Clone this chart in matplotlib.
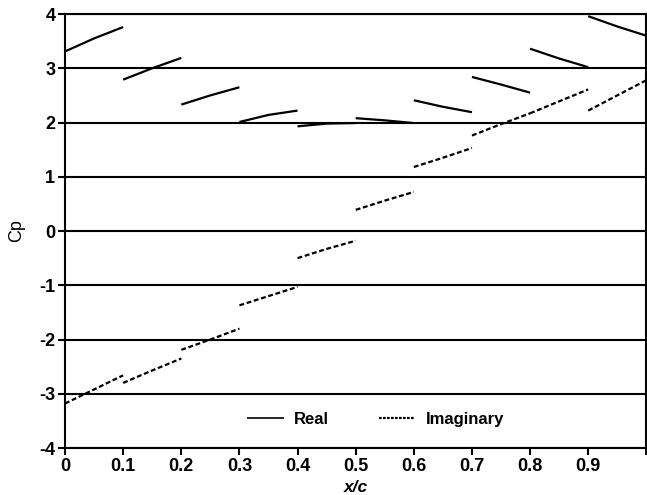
import numpy as np
import matplotlib
matplotlib.use("Agg")
import matplotlib.pyplot as plt

plt.rcParams['font.family'] = ['Liberation Sans', 'DejaVu Sans']
plt.rcParams['axes.unicode_minus'] = False

# Chordwise stations: each 0.1-wide strip carries its own short curve
strip_starts = [0.0, 0.1, 0.2, 0.3, 0.4, 0.5, 0.6, 0.7, 0.8, 0.9]

# Real part of Cp, (start, middle, end) of each strip
real_start = [3.31, 2.79, 2.33, 2.01, 1.93, 2.08, 2.41, 2.84, 3.36, 3.96]
real_mid = [3.55, 3.00, 2.50, 2.14, 1.98, 2.04, 2.29, 2.70, 3.18, 3.77]
real_end = [3.76, 3.19, 2.65, 2.22, 1.99, 1.99, 2.19, 2.55, 3.02, 3.60]

# Imaginary part of Cp, (start, middle, end) of each strip
imag_start = [-3.18, -2.80, -2.19, -1.37, -0.50, 0.39, 1.18, 1.76, 2.17, 2.22]
imag_mid = [-2.92, -2.57, -2.00, -1.20, -0.33, 0.56, 1.35, 1.97, 2.39, 2.50]
imag_end = [-2.66, -2.35, -1.80, -1.03, -0.18, 0.72, 1.53, 2.17, 2.61, 2.78]

x_ticks = [0.0, 0.1, 0.2, 0.3, 0.4, 0.5, 0.6, 0.7, 0.8, 0.9, 1.0]
x_tick_labels = ['0', '0.1', '0.2', '0.3', '0.4', '0.5', '0.6', '0.7', '0.8', '0.9', '']
y_ticks = [-4, -3, -2, -1, 0, 1, 2, 3, 4]

fig = plt.figure(figsize=(6.47, 4.95), dpi=100)
ax = fig.add_axes([0.1005, 0.0949, 0.8985, 0.8768])

for i, x0 in enumerate(strip_starts):
    xs = [x0, x0 + 0.05, x0 + 0.1]
    ax.plot(xs, [real_start[i], real_mid[i], real_end[i]], color='black',
            lw=1.6, solid_capstyle='butt',
            label='Real' if i == 0 else None)
    ax.plot(xs, [imag_start[i], imag_mid[i], imag_end[i]], color='black',
            lw=1.6, linestyle=(0, (2.2, 1.2)), dash_capstyle='butt',
            label='Imaginary' if i == 0 else None)

for yv in y_ticks:
    ax.axhline(yv, color='black', lw=1.5, zorder=0)

ax.set_xlim(0, 1)
ax.set_ylim(-4, 4)
ax.set_xticks(x_ticks)
ax.set_xticklabels(x_tick_labels)
ax.set_yticks(y_ticks)
ax.tick_params(direction='out', length=5, width=1.5, labelsize=13, pad=2)
for lbl in ax.get_xticklabels() + ax.get_yticklabels():
    lbl.set_fontweight('bold')
for sp in ax.spines.values():
    sp.set_linewidth(1.5)

ax.set_xlabel('x/c', fontsize=12.5, fontweight='bold', fontstyle='italic', labelpad=4)
ax.set_ylabel('Cp', fontsize=13, labelpad=10)

leg = ax.legend(loc='center', bbox_to_anchor=(0.534, 0.065), ncol=2, frameon=False,
                handlelength=2.2, columnspacing=3.0, handletextpad=0.6,
                prop={'weight': 'bold', 'size': 12})
leg.get_lines()[1].set_linestyle((0, (1.2, 0.6)))
leg.get_lines()[0].set_linewidth(1.2)

fig.savefig('out.png', dpi=100)
